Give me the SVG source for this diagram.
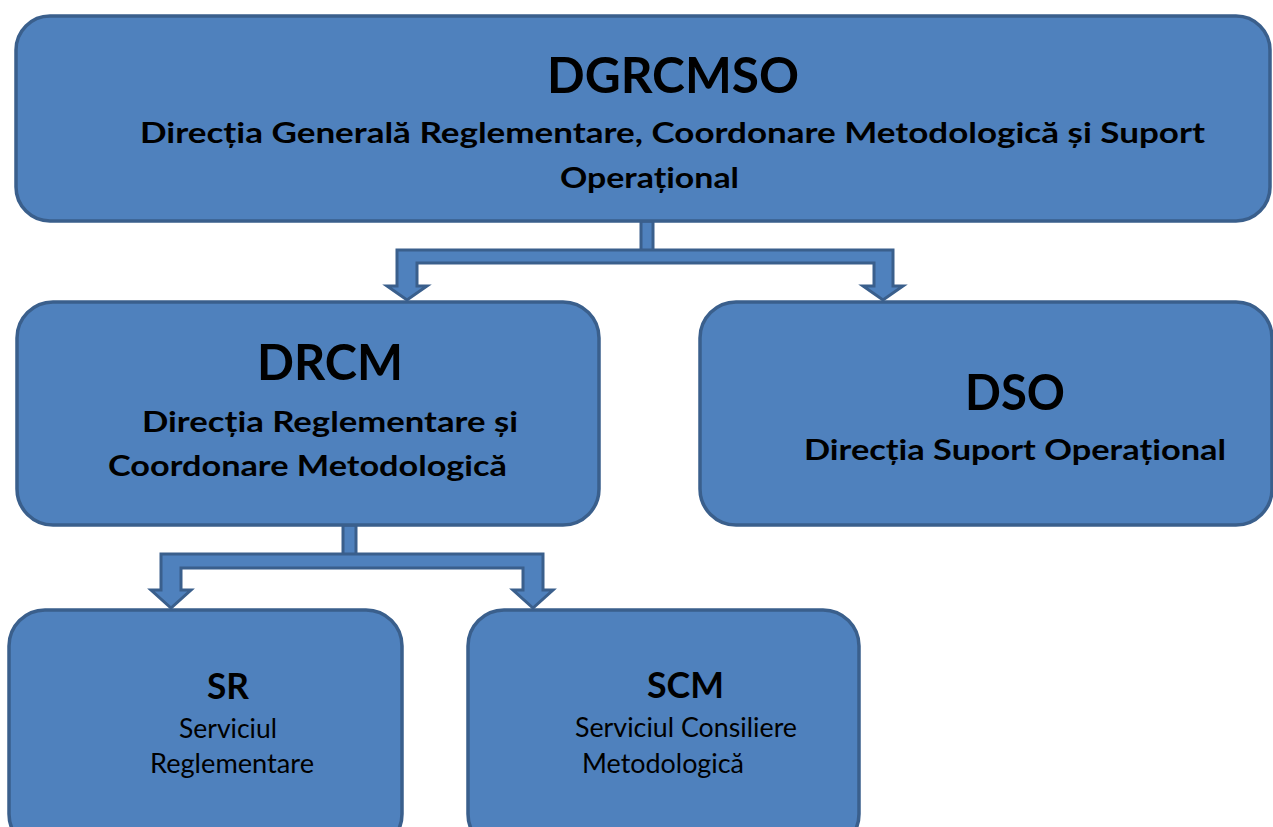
<svg xmlns="http://www.w3.org/2000/svg" width="1273" height="827" viewBox="0 0 1273 827">
<style>
.box{fill:#4F81BD;stroke:#3A5F8C;stroke-width:3.5}
.con{fill:#4F81BD;stroke:#3A5F8C;stroke-width:3;stroke-linejoin:miter}
.t{font-family:Lato,"Open Sans","Liberation Sans",sans-serif;fill:#000}
.b{font-weight:bold}
</style>
<rect width="1273" height="827" fill="#fff"/>
<g id="connectors">
<rect class="con" x="641" y="221" width="12" height="30"/>
<path class="con" d="M397,250 L893,250 L893,286 L903,286 L883,300 L863,286 L874,286 L874,263 L417,263 L417,286 L427,286 L407,300 L387,286 L397,286 Z"/>
<rect class="con" x="343" y="525" width="13" height="30"/>
<path class="con" d="M161,554 L543,554 L543,590 L553,590 L533,608 L513,590 L523,590 L523,568 L181,568 L181,590 L191,590 L171,608 L151,590 L161,590 Z"/>
</g>
<g id="node-dgrcmso">
<rect class="box" x="16" y="16" width="1254" height="205" rx="34" ry="34"/>
<text class="t b" x="547" y="93" font-size="49" textLength="252" lengthAdjust="spacingAndGlyphs">DGRCMSO</text>
<text class="t b" x="140" y="143" font-size="29" textLength="1065" lengthAdjust="spacingAndGlyphs">Direcția Generală Reglementare, Coordonare Metodologică și Suport</text>
<text class="t b" x="560" y="188" font-size="29" textLength="179" lengthAdjust="spacingAndGlyphs">Operațional</text>
</g>
<g id="node-drcm">
<rect class="box" x="17" y="302" width="582" height="223" rx="36" ry="36"/>
<text class="t b" x="257" y="380" font-size="49" textLength="146" lengthAdjust="spacingAndGlyphs">DRCM</text>
<text class="t b" x="142" y="432" font-size="29" textLength="376" lengthAdjust="spacingAndGlyphs">Direcția Reglementare și</text>
<text class="t b" x="108" y="476" font-size="29" textLength="399" lengthAdjust="spacingAndGlyphs">Coordonare Metodologică</text>
</g>
<g id="node-dso">
<rect class="box" x="700" y="302" width="572" height="223" rx="36" ry="36"/>
<text class="t b" x="965" y="410" font-size="49" textLength="100" lengthAdjust="spacingAndGlyphs">DSO</text>
<text class="t b" x="804" y="460" font-size="29" textLength="422" lengthAdjust="spacingAndGlyphs">Direcția Suport Operațional</text>
</g>
<g id="node-sr">
<rect class="box" x="9" y="610" width="393" height="240" rx="36" ry="36"/>
<text class="t b" x="207" y="699" font-size="36" textLength="42" lengthAdjust="spacingAndGlyphs">SR</text>
<text class="t" x="179" y="738" font-size="26" textLength="98" lengthAdjust="spacingAndGlyphs">Serviciul</text>
<text class="t" x="150" y="773" font-size="26" textLength="164" lengthAdjust="spacingAndGlyphs">Reglementare</text>
</g>
<g id="node-scm">
<rect class="box" x="468" y="610" width="391" height="240" rx="36" ry="36"/>
<text class="t b" x="647" y="698" font-size="36" textLength="77" lengthAdjust="spacingAndGlyphs">SCM</text>
<text class="t" x="575" y="737" font-size="26" textLength="222" lengthAdjust="spacingAndGlyphs">Serviciul Consiliere</text>
<text class="t" x="582" y="773" font-size="26" textLength="162" lengthAdjust="spacingAndGlyphs">Metodologică</text>
</g>
</svg>
